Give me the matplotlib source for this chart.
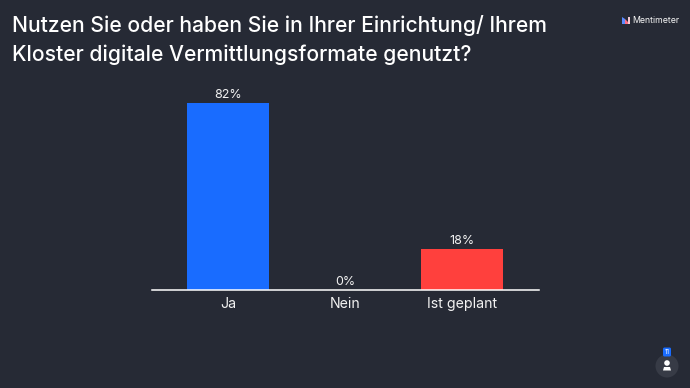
import matplotlib
matplotlib.use("Agg")
import matplotlib.pyplot as plt
from matplotlib.patches import Circle, FancyBboxPatch, Polygon

categories = ["Ja", "Nein", "Ist geplant"]
values = [82, 0, 18]
colors = ["#196cff", "#196cff", "#ff403d"]
title_lines = ["Nutzen Sie oder haben Sie in Ihrer Einrichtung/ Ihrem",
               "Kloster digitale Vermittlungsformate genutzt?"]

W, H = 690, 388
BG = "#262a35"
plt.rcParams["font.family"] = ["Inter", "DejaVu Sans"]
fig = plt.figure(figsize=(W / 100, H / 100), dpi=100, facecolor=BG)

x0, x1, ybase, ytop = 152, 539, 290, 62
ax = fig.add_axes([x0 / W, 1 - ybase / H, (x1 - x0) / W, (ybase - ytop) / H])
ax.set_facecolor("none")
ax.bar(range(3), values, width=0.70, color=colors, linewidth=0)
ax.set_xlim(-0.65, 2.658)
ax.set_ylim(0, 100)
for sp in ["top", "left", "right"]:
    ax.spines[sp].set_visible(False)
ax.spines["bottom"].set_color("#ffffff")
ax.spines["bottom"].set_linewidth(1.1)
ax.set_yticks([])
ax.set_xticks(range(3), categories)
ax.tick_params(axis="x", length=0, pad=5, labelsize=10.2, labelcolor="#f2f2f2")
for i, v in enumerate(values):
    ax.annotate(f"{v}%", (i, v), xytext=(0, 1.5), textcoords="offset points",
                ha="center", va="bottom", fontsize=9, color="#f2f2f2")

# overlay in pixel coordinates
ov = fig.add_axes([0, 0, 1, 1], facecolor="none")
ov.set_xlim(0, W)
ov.set_ylim(H, 0)
ov.axis("off")
for line, y in zip(title_lines, [26, 55]):
    ov.text(12, y, line, fontsize=15.2, color="#ffffff", va="center", ha="left", fontweight="medium")
ov.add_patch(Polygon([(622, 17), (625, 19), (625, 24), (622, 24)], color="#5a8bff", lw=0))
ov.add_patch(Polygon([(625, 19), (628, 22), (628, 24), (625, 24)], color="#ff6f87", lw=0))
ov.add_patch(Polygon([(628, 17), (629.5, 17), (629.5, 24), (628, 24)], color="#f3c9d4", lw=0))
ov.text(632, 20.5, "Mentimeter", fontsize=6.3, color="#f4f4f4", va="center", ha="left")
ov.add_patch(Circle((667, 366), 11.5, color="#373b46", lw=0))
ov.add_patch(Circle((667, 363), 2.8, color="#ffffff", lw=0))
ov.add_patch(Polygon([(663, 370.5), (664, 367), (670, 367), (671, 370.5)], color="#ffffff", lw=0))
ov.add_patch(FancyBboxPatch((663, 347.5), 8, 9, boxstyle="round,pad=0,rounding_size=1.5",
                            color="#196cff", lw=0))
ov.text(667, 352, "11", fontsize=4.6, color="#ffffff", ha="center", va="center")

fig.savefig("out.png", dpi=100, facecolor=BG)
